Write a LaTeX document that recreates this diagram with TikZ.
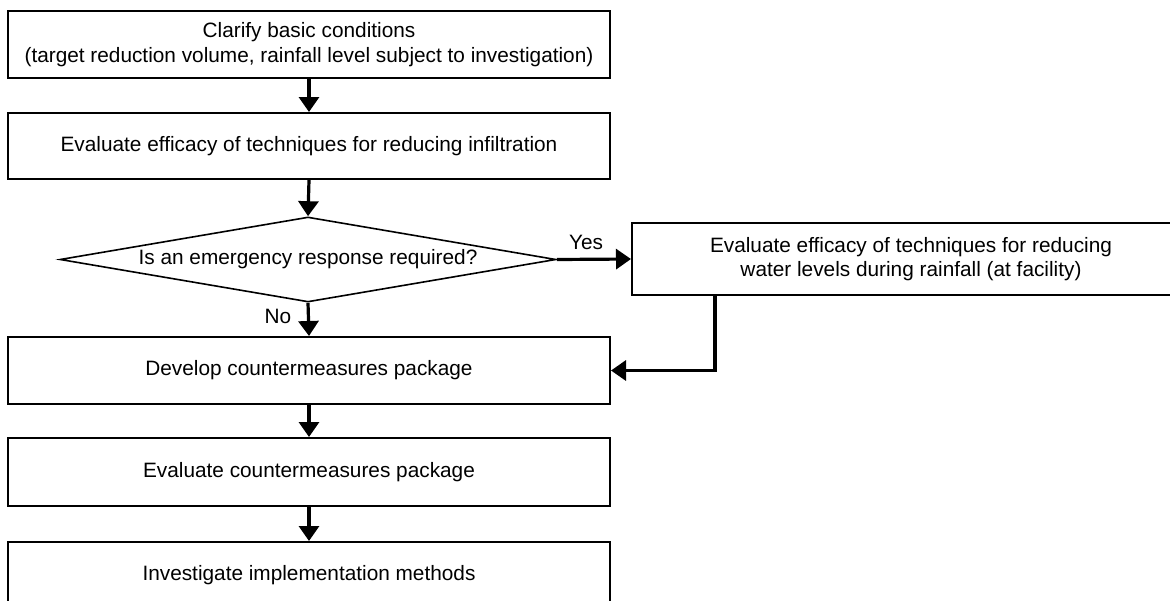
\documentclass[tikz,border=0pt]{standalone}
\usepackage{fontspec}
\setmainfont{Liberation Sans}
\usetikzlibrary{arrows.meta,shapes.geometric,calc}
\begin{document}
\begin{tikzpicture}[x=1pt,y=-1pt,
  txt/.style={font=\fontsize{20.8}{24.5}\selectfont},
  box/.style={txt,draw,line width=2pt,minimum width=602pt,minimum height=67pt,inner sep=0pt,align=center},
  decision/.style={txt,draw,line width=1.6pt,diamond,shape aspect=5.8,minimum width=496pt,minimum height=85pt,inner sep=0pt},
  conn/.style={line width=3.2pt,-{Triangle[width=20pt,length=15pt]}},
  lbl/.style={txt,inner sep=0pt}]
\useasboundingbox (0,0) rectangle (1170,600);
\clip (0,0) rectangle (1170,600);
\node[box,minimum height=67pt] (b1) at (309,44.5) {Clarify basic conditions\\(target reduction volume, rainfall level subject to investigation)};
\node[box,minimum height=66pt] (b2) at (309,146) {Evaluate efficacy of techniques for reducing infiltration};
\node[decision] (dia) at (308,259.5) {Is an emergency response required?};
\node[box,minimum width=558pt,minimum height=72pt] (rb) at (911,259) {Evaluate efficacy of techniques for reducing\\water levels during rainfall (at facility)};
\node[box] (b3) at (309,370.5) {Develop countermeasures package};
\node[box,minimum height=68pt] (b4) at (309,472) {Evaluate countermeasures package};
\node[box] (b5) at (309,575.5) {Investigate implementation methods};
\coordinate (rbc) at ($(rb.south west)+(84,0)$);
\draw[conn] (b1.south) -- (b2.north);
\draw[conn] (b2.south) -- (dia.north);
\draw[conn] (dia.east) -- (rb.west);
\draw[conn] (dia.south) -- (b3.north);
\draw[conn] (rbc) |- (b3.east);
\draw[conn] (b3.south) -- (b4.north);
\draw[conn] (b4.south) -- (b5.north);
\node[lbl] (yes) at (586,242) {Yes};
\node[lbl] (no) at (278,316) {No};
\end{tikzpicture}
\end{document}
